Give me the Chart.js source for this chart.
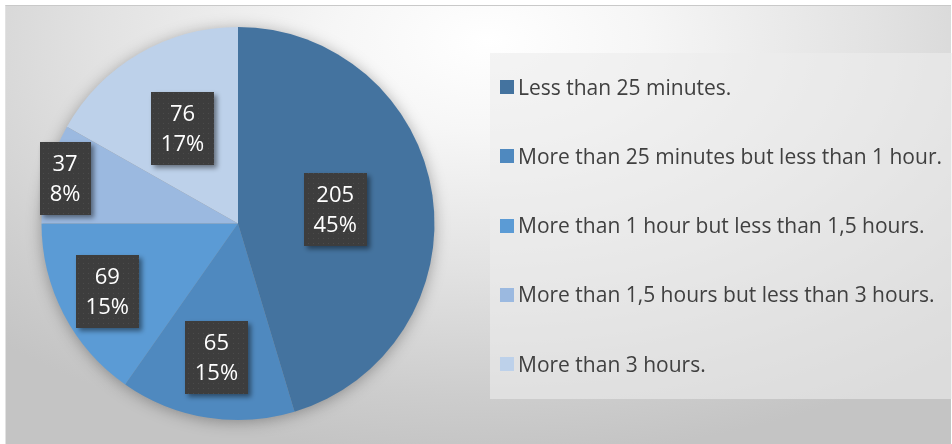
<!DOCTYPE html>
<html>
<head>
<meta charset="utf-8">
<script src="https://cdn.jsdelivr.net/npm/chart.js@4.4.0/dist/chart.umd.min.js"></script>
<style>
  html, body { margin: 0; padding: 0; background: #fff; }
  #frame {
    position: absolute; left: 5px; top: 5px; width: 946px; height: 439px;
    border-top: 1px solid #c9c9c9; border-left: 1px solid #e2e2e2; box-sizing: border-box;
    background: radial-gradient(ellipse 75% 95% at 51% 8%, #ffffff 0%, #f6f6f6 22%, #e2e2e2 55%, #cdcdcd 85%, #c4c4c4 100%);
  }
  canvas { position: absolute; left: 0; top: 0; }
</style>
</head>
<body>
<div id="frame"><canvas id="chart" width="946" height="439"></canvas></div>
<script>
const categories = [
  'Less than 25 minutes.',
  'More than 25 minutes but less than 1 hour.',
  'More than 1 hour but less than 1,5 hours.',
  'More than 1,5 hours but less than 3 hours.',
  'More than 3 hours.'
];
const counts = [205, 65, 69, 37, 76];
const percentLabels = ['45%', '15%', '15%', '8%', '17%'];

const sliceColors = ['#44739f', '#4f89bf', '#5b9bd5', '#9bb9e0', '#bdd1ea'];
// how far out (fraction of radius) each data label sits, like Excel's best fit
const labelDist = [0.5, 0.69, 0.75, 0.91, 0.56];
const FONT = '"Open Sans", "Liberation Sans", sans-serif';

// dotted dark fill for the label boxes
const dots = document.createElement('canvas');
dots.width = 5; dots.height = 5;
const dctx = dots.getContext('2d');
dctx.fillStyle = '#3d3d3d';
dctx.fillRect(0, 0, 5, 5);
dctx.fillStyle = '#4b4b4b';
dctx.fillRect(2, 2, 1, 1);

const pieShadow = {
  id: 'pieShadow',
  beforeDatasetsDraw(chart) {
    const arc = chart.getDatasetMeta(0).data[0];
    if (!arc) return;
    const ctx = chart.ctx;
    ctx.save();
    ctx.shadowColor = 'rgba(0,0,0,0.35)';
    ctx.shadowBlur = 16;
    ctx.shadowOffsetY = 2;
    ctx.fillStyle = '#888';
    ctx.beginPath();
    ctx.arc(arc.x, arc.y, arc.outerRadius - 1, 0, Math.PI * 2);
    ctx.fill();
    ctx.restore();
  }
};

const boxLabels = {
  id: 'boxLabels',
  afterDatasetsDraw(chart) {
    const ctx = chart.ctx;
    const pattern = ctx.createPattern(dots, 'repeat');
    chart.getDatasetMeta(0).data.forEach((arc, i) => {
      const mid = (arc.startAngle + arc.endAngle) / 2;
      const r = arc.outerRadius * labelDist[i];
      const cx = arc.x + Math.cos(mid) * r;
      const cy = arc.y + Math.sin(mid) * r;
      const lines = [String(counts[i]), percentLabels[i]];
      ctx.save();
      ctx.font = '22px ' + FONT;
      const w = Math.max(...lines.map((t) => ctx.measureText(t).width)) + 20;
      const h = 73;
      ctx.shadowColor = 'rgba(0,0,0,0.45)';
      ctx.shadowBlur = 5;
      ctx.shadowOffsetX = 3;
      ctx.shadowOffsetY = 3;
      ctx.fillStyle = pattern;
      ctx.fillRect(Math.round(cx - w / 2), Math.round(cy - h / 2), Math.round(w), h);
      ctx.restore();
      ctx.save();
      ctx.font = '500 22px ' + FONT;
      ctx.fillStyle = '#ffffff';
      ctx.textAlign = 'center';
      ctx.textBaseline = 'alphabetic';
      ctx.fillText(lines[0], cx, cy - 7.5);
      ctx.fillText(lines[1], cx, cy + 22.5);
      ctx.restore();
    });
  }
};

const sideLegend = {
  id: 'sideLegend',
  afterDraw(chart) {
    const ctx = chart.ctx;
    const left = 484, top = 47, right = chart.width, bottom = 393;
    ctx.save();
    ctx.fillStyle = 'rgba(236,236,236,0.6)';
    ctx.fillRect(left, top, right - left, bottom - top);
    const ds = chart.data.datasets[0];
    ctx.font = '21px ' + FONT;
    ctx.textBaseline = 'alphabetic';
    chart.data.labels.forEach((label, i) => {
      const y = top + 34 + i * 69.25;
      ctx.fillStyle = ds.backgroundColor[i];
      ctx.fillRect(left + 10, Math.round(y - 7), 14, 14);
      ctx.fillStyle = '#404040';
      ctx.fillText(label, left + 28, y + 7.5);
    });
    ctx.restore();
  }
};

new Chart(document.getElementById('chart'), {
  type: 'pie',
  data: {
    labels: categories,
    datasets: [{
      data: counts,
      backgroundColor: sliceColors,
      borderWidth: 0
    }]
  },
  options: {
    responsive: false,
    animation: false,
    devicePixelRatio: 1,
    layout: { padding: { left: 35, right: 517, top: 21, bottom: 25 } },
    plugins: {
      legend: { display: false },
      tooltip: { enabled: false }
    }
  },
  plugins: [pieShadow, boxLabels, sideLegend]
});
</script>
</body>
</html>
